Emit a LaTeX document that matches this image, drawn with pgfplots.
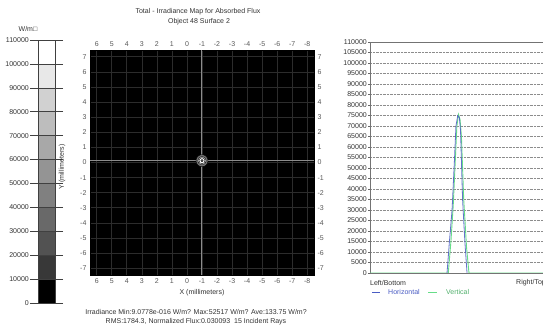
\documentclass[border=0pt]{standalone}
\usepackage{fontspec}
\setmainfont{Liberation Sans}
\usepackage{pgfplots}
\pgfplotsset{compat=1.18}
\definecolor{txt}{HTML}{333333}
\definecolor{hblue}{HTML}{4A5CC4}
\definecolor{vgreen}{HTML}{66DD88}
\definecolor{mapgrid}{HTML}{2C2C2C}
\begin{document}
\begin{tikzpicture}[x=1pt,y=1pt,font=\fontsize{7}{8}\selectfont]
\useasboundingbox (0pt,0pt) rectangle (543pt,329pt);
\clip (0pt,0pt) rectangle (543pt,329pt);
\fill[white] (0pt,0pt) rectangle (543pt,329pt);
\pgfplotsset{every axis/.append style={/pgf/number format/assume math mode=true,
  tick label style={font=\fontsize{7}{8}\selectfont, text=txt},
  label style={font=\fontsize{7}{8}\selectfont, text=txt}}}
% ---------------- colour bar ----------------
\begin{axis}[at={(38pt,26pt)}, anchor=south west, scale only axis,
  width=17pt, height=263pt, xmin=0, xmax=1, ymin=0, ymax=110000,
  xtick=\empty, ytick={0,10000,...,110000}, scaled y ticks=false,
  yticklabel style={/pgf/number format/fixed,/pgf/number format/1000 sep={}, inner sep=1pt},
  ymajorgrids, grid style={black!75, line width=0.6pt},
  tick align=outside, major tick length=8pt, tick style={black!75, line width=0.6pt},
  axis line style={black!75, line width=0.6pt}, axis on top]
\addplot[fill=black, draw=none] coordinates {(0,0)(1,0)(1,10000)(0,10000)} -- cycle;
\addplot[fill=black!78, draw=none] coordinates {(0,10000)(1,10000)(1,20000)(0,20000)} -- cycle;
\addplot[fill=black!68, draw=none] coordinates {(0,20000)(1,20000)(1,30000)(0,30000)} -- cycle;
\addplot[fill=black!59, draw=none] coordinates {(0,30000)(1,30000)(1,40000)(0,40000)} -- cycle;
\addplot[fill=black!50, draw=none] coordinates {(0,40000)(1,40000)(1,50000)(0,50000)} -- cycle;
\addplot[fill=black!42, draw=none] coordinates {(0,50000)(1,50000)(1,60000)(0,60000)} -- cycle;
\addplot[fill=black!34, draw=none] coordinates {(0,60000)(1,60000)(1,70000)(0,70000)} -- cycle;
\addplot[fill=black!26, draw=none] coordinates {(0,70000)(1,70000)(1,80000)(0,80000)} -- cycle;
\addplot[fill=black!18, draw=none] coordinates {(0,80000)(1,80000)(1,90000)(0,90000)} -- cycle;
\addplot[fill=black!9, draw=none] coordinates {(0,90000)(1,90000)(1,100000)(0,100000)} -- cycle;
\addplot[fill=white, draw=none] coordinates {(0,100000)(1,100000)(1,110000)(0,110000)} -- cycle;
\end{axis}
\node[text=txt] at (28pt,300pt) {W/m□};
% ---------------- irradiance map ----------------
\begin{axis}[at={(90pt,54pt)}, anchor=south west, scale only axis,
  width=224pt, height=225pt, x dir=reverse,
  xmin=-8.45, xmax=6.45, ymin=-7.45, ymax=7.45,
  axis background/.style={fill=black},
  xtick={-8,...,6}, ytick={-7,...,7},
  grid=major, grid style={color=mapgrid, line width=0.7pt},
  major tick length=0pt, axis line style={black},
  tick label style={text=black!65},
  xlabel={X (millimeters)}, ylabel={Y (millimeters)},
  xlabel style={at={(axis description cs:0.5,-0.08)}, anchor=center},
  ylabel style={at={(axis description cs:-0.125,0.48)}, anchor=center}]
\addplot[black!45, line width=1pt] coordinates {(-1,-7.45)(-1,7.45)};
\addplot[black!45, line width=1pt] coordinates {(-8.45,0.12)(6.45,0.12)};
\addplot[only marks, mark=*, mark size=6pt, mark options={fill=black!55, draw=none}] coordinates {(-1,0.12)};
\addplot[only marks, mark=*, mark size=4.2pt, mark options={fill=black!15, draw=none}] coordinates {(-1,0.12)};
\addplot[only marks, mark=*, mark size=3pt, mark options={fill=white, draw=none}] coordinates {(-1,0.12)};
\addplot[only marks, mark=*, mark size=1.2pt, mark options={fill=black!35, draw=none}] coordinates {(-1,0.12)};
\node[anchor=south east, text=black!65, inner sep=1pt] at (rel axis cs:0,1) {7.7};
\end{axis}
\begin{axis}[at={(90pt,54pt)}, anchor=south west, scale only axis,
  width=224pt, height=225pt, x dir=reverse,
  xmin=-8.45, xmax=6.45, ymin=-7.45, ymax=7.45,
  xtick={-8,...,6}, ytick={-7,...,7},
  xticklabel pos=upper, yticklabel pos=right,
  major tick length=0pt, axis line style={draw=none},
  tick label style={text=black!65}]
\addplot[draw=none] coordinates {(0,0)};
\node[anchor=south west, text=black!65, inner sep=1pt] at (rel axis cs:1,1) {7.7};
\end{axis}
% ---------------- profile ----------------
\begin{axis}[at={(370pt,56pt)}, anchor=south west, scale only axis,
  width=176pt, height=231pt, xmin=-7.7, xmax=7.7, ymin=0, ymax=110000,
  xtick=\empty, ytick={0,5000,...,110000}, scaled y ticks=false,
  yticklabel style={/pgf/number format/fixed,/pgf/number format/1000 sep={}, inner sep=1pt},
  ymajorgrids, grid style={densely dotted, black!45, line width=0.5pt},
  tick align=outside, major tick length=2pt, tick style={black!60},
  axis line style={black!55, line width=0.6pt}]
\addplot[vgreen, line width=0.9pt] coordinates {(-7.7,0)(-0.85,0)(-0.62,15000)(-0.42,32000)(-0.2,58000)(-0.1,70000)(0.05,75500)(0.18,73000)(0.3,65000)(0.5,35000)(0.75,12000)(0.96,0)(7.7,0)};
\addplot[hblue, line width=0.8pt, opacity=0.85] coordinates {(-0.96,0)(-0.75,15000)(-0.52,30000)(-0.3,55000)(-0.18,70000)(-0.02,75000)(0.12,74000)(0.22,68000)(0.4,35000)(0.6,15000)(0.79,0)};
\end{axis}
\node[anchor=west, text=txt, inner sep=0pt] at (370pt,46pt) {Left/Bottom};
\node[anchor=east, text=txt, inner sep=0pt] at (546pt,46pt) {Right/Top};
\draw[hblue, line width=0.6pt] (372pt,37pt) -- (380pt,37pt);
\node[anchor=west, text=hblue, inner sep=0pt] at (388pt,37pt) {Horizontal};
\draw[vgreen, line width=0.6pt] (428pt,37pt) -- (437pt,37pt);
\node[anchor=west, text=vgreen!80!black, inner sep=0pt] at (446pt,37pt) {Vertical};
% ---------------- texts ----------------
\node[text=txt] at (198pt,317pt) {Total - Irradiance Map for Absorbed Flux};
\node[text=txt] at (199pt,307pt) {Object 48 Surface 2};
\node[text=txt] at (196pt,17pt) {Irradiance Min:9.0778e-016 W/m? Max:52517 W/m? Ave:133.75 W/m?};
\node[text=txt] at (196pt,7pt) {RMS:1784.3, Normalized Flux:0.030093 \ 15 Incident Rays};
\end{tikzpicture}
\end{document}
